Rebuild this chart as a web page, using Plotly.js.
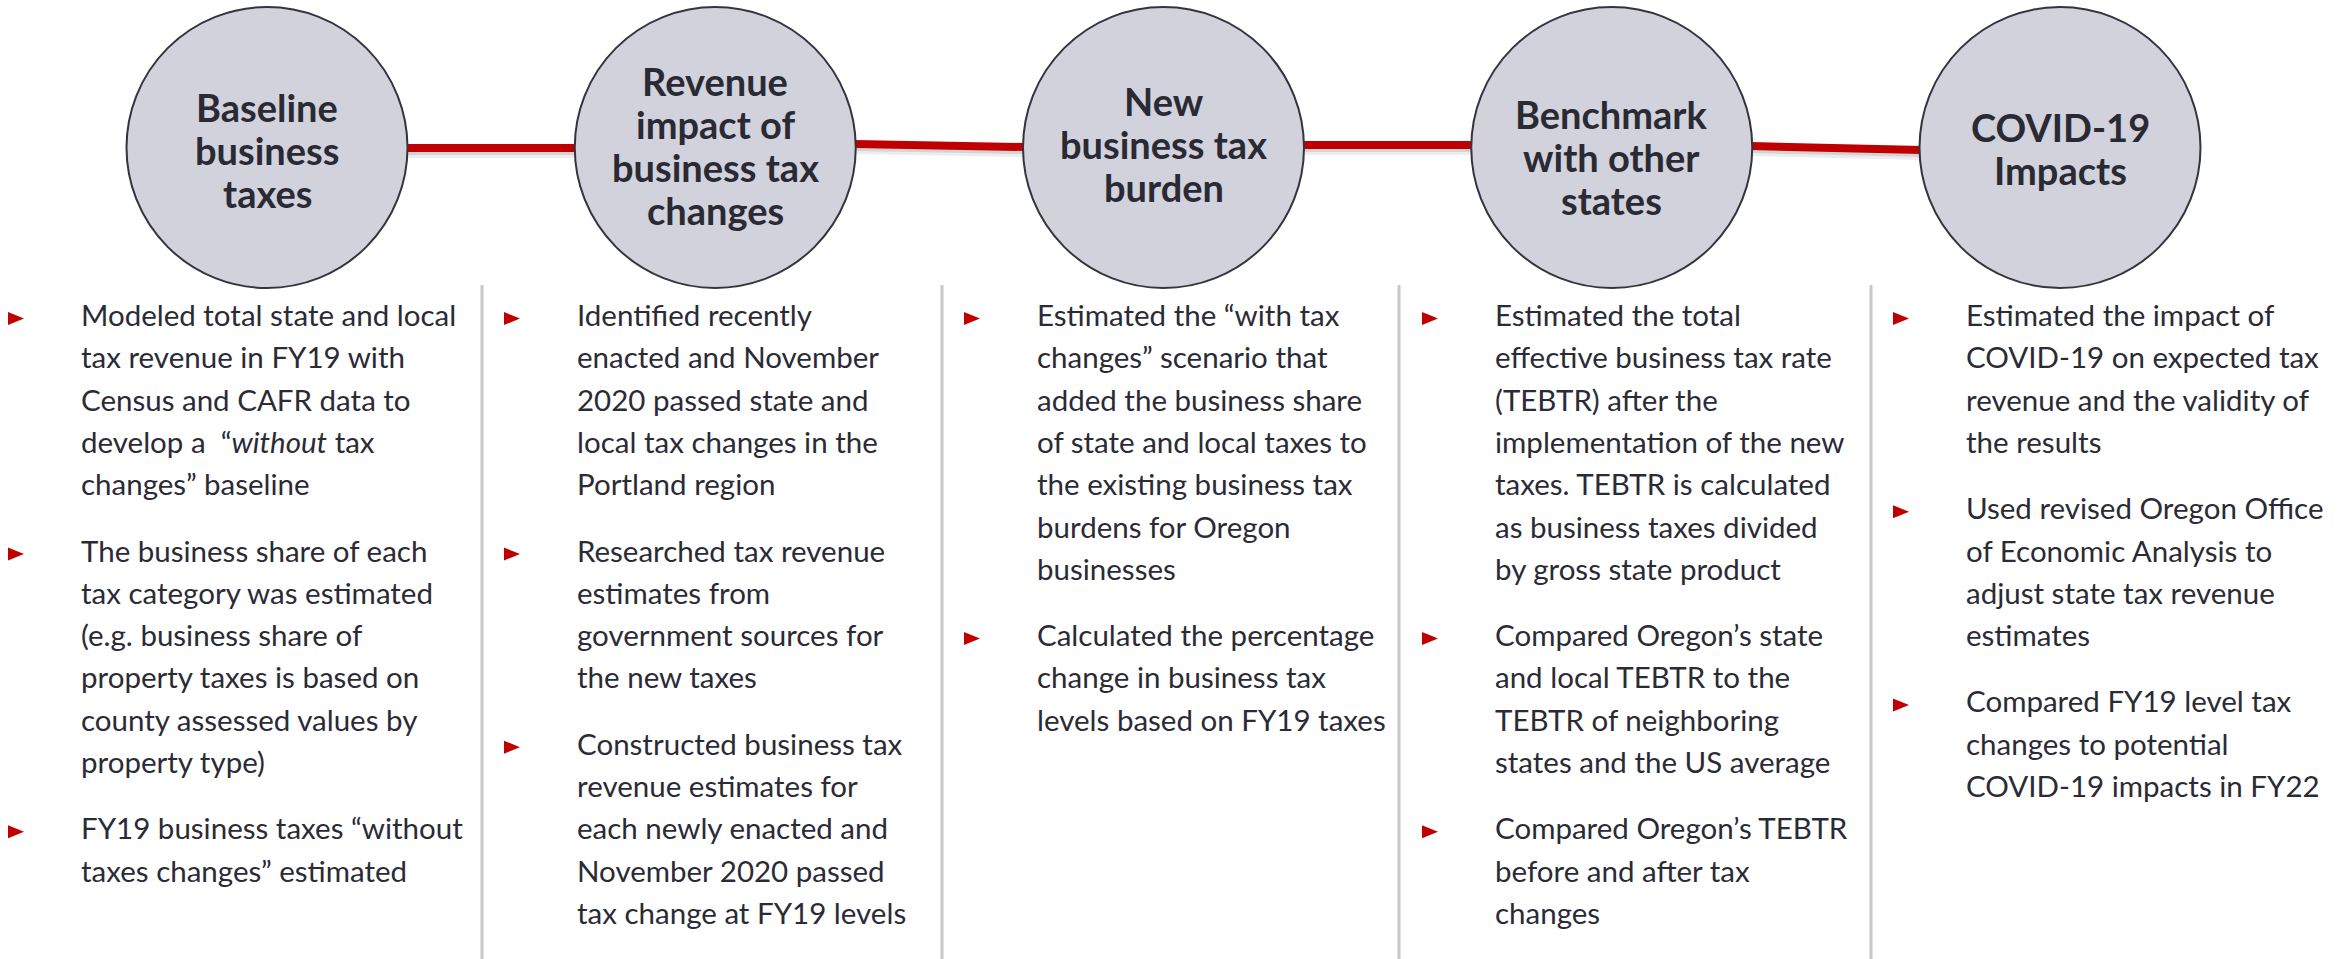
<!DOCTYPE html>
<html><head><meta charset="utf-8">
<script src="https://cdn.plot.ly/plotly-3.0.1.min.js"></script>
<style>html,body{margin:0;padding:0;background:#fff;overflow:hidden}#chart{width:2348px;height:959px}</style>
</head><body><div id="chart"></div>
<script>
// ---- content ----
const stepTitles = [
  ["Baseline", "business", "taxes"],
  ["Revenue", "impact of", "business tax", "changes"],
  ["New", "business tax", "burden"],
  ["Benchmark", "with other", "states"],
  ["COVID-19", "Impacts"]
];
const col1Bullets = [
  ["Modeled total state and local", "tax revenue in FY19 with", "Census and CAFR data to", "develop a \u00A0\u201C<i>without</i> tax", "changes\u201D baseline"],
  ["The business share of each", "tax category was estimated", "(e.g. business share of", "property taxes is based on", "county assessed values by", "property type)"],
  ["FY19 business taxes \u201Cwithout", "taxes changes\u201D estimated"]
];
const col2Bullets = [
  ["Identified recently", "enacted and November", "2020 passed state and", "local tax changes in the", "Portland region"],
  ["Researched tax revenue", "estimates from", "government sources for", "the new taxes"],
  ["Constructed business tax", "revenue estimates for", "each newly enacted and", "November 2020 passed", "tax change at FY19 levels"]
];
const col3Bullets = [
  ["Estimated the \u201Cwith tax", "changes\u201D scenario that", "added the business share", "of state and local taxes to", "the existing business tax", "burdens for Oregon", "businesses"],
  ["Calculated the percentage", "change in business tax", "levels based on FY19 taxes"]
];
const col4Bullets = [
  ["Estimated the total", "effective business tax rate", "(TEBTR) after the", "implementation of the new", "taxes. TEBTR is calculated", "as business taxes divided", "by gross state product"],
  ["Compared Oregon\u2019s state", "and local TEBTR to the", "TEBTR of neighboring", "states and the US average"],
  ["Compared Oregon\u2019s TEBTR", "before and after tax", "changes"]
];
const col5Bullets = [
  ["Estimated the impact of", "COVID-19 on expected tax", "revenue and the validity of", "the results"],
  ["Used revised Oregon Office", "of Economic Analysis to", "adjust state tax revenue", "estimates"],
  ["Compared FY19 level tax", "changes to potential", "COVID-19 impacts in FY22"]
];
const columns = [col1Bullets, col2Bullets, col3Bullets, col4Bullets, col5Bullets];

// ---- layout constants ----
const W = 2348, H = 959;
const circleCX0 = 267, circleStep = 448.25, circleCY = 147.5, circleR = 140.5;
const titleCenterY = [151.5, 147.5, 146, 159, 150];
const titleLineH = 43, titleFS = 38, titleCap = 26;
const connectorY = [[148, 148], [144, 147], [145, 145], [146, 150]];
const bulletX = [8, 504, 964, 1422, 1893];
const textOffset = 73;
const dividerX = [482, 942, 1399, 1871];
const firstBaseline = 326, lineH = 42.3, paraGap = 24, bodyFS = 29.5;
const FONT = 'Lato, "Open Sans", sans-serif';
const ASC = 0.387; // (ascent - descent)/2 in em, for middle anchoring
const RED = '#C00000', TXT = '#2b2b36', TITLE = '#2a2a35';

const shapes = [];
const annotations = [];

// dividers
dividerX.forEach(x => shapes.push({type: 'line', xref: 'x', yref: 'y', x0: x, x1: x, y0: 285, y1: H,
  line: {color: '#c8c8c8', width: 3}, layer: 'below'}));

// connectors (shadow + red)
for (let i = 0; i < 4; i++) {
  const xa = circleCX0 + i * circleStep + circleR - 1;
  const xb = circleCX0 + (i + 1) * circleStep - circleR + 2;
  const [ya, yb] = connectorY[i];
  shapes.push({type: 'line', xref: 'x', yref: 'y', x0: xa, x1: xb, y0: ya + 5, y1: yb + 5,
    line: {color: 'rgba(0,0,0,0.07)', width: 10}, layer: 'below'});
  shapes.push({type: 'line', xref: 'x', yref: 'y', x0: xa, x1: xb, y0: ya + 4, y1: yb + 4,
    line: {color: 'rgba(0,0,0,0.10)', width: 6}, layer: 'below'});
  shapes.push({type: 'line', xref: 'x', yref: 'y', x0: xa, x1: xb, y0: ya, y1: yb,
    line: {color: RED, width: 8}, layer: 'below'});
}

// circles + titles
stepTitles.forEach((lines, i) => {
  const cx = circleCX0 + i * circleStep;
  shapes.push({type: 'circle', xref: 'x', yref: 'y', x0: cx - circleR, x1: cx + circleR,
    y0: circleCY - circleR, y1: circleCY + circleR,
    fillcolor: '#D1D2DB', line: {color: '#34343f', width: 2}, layer: 'above'});
  const n = lines.length;
  const b0 = titleCenterY[i] - ((n - 1) * titleLineH + titleCap) / 2 + titleCap;
  lines.forEach((t, k) => {
    annotations.push({x: cx, y: b0 + k * titleLineH - ASC * titleFS, xref: 'x', yref: 'y',
      text: '<b>' + t + '</b>', showarrow: false, xanchor: 'center', yanchor: 'middle',
      borderpad: 0, borderwidth: 0,
      font: {family: FONT, size: titleFS, color: TITLE}});
  });
});

// body bullets
columns.forEach((paras, c) => {
  let b = firstBaseline;
  const bx = bulletX[c], tx = bx + textOffset;
  paras.forEach(lines => {
    const cy = b - 7.5;
    shapes.push({type: 'path', xref: 'x', yref: 'y',
      path: `M ${bx} ${cy - 6.5} L ${bx + 16} ${cy} L ${bx} ${cy + 6.5} Z`,
      fillcolor: RED, line: {width: 0}, layer: 'above'});
    lines.forEach(t => {
      annotations.push({x: tx, y: b - ASC * bodyFS, xref: 'x', yref: 'y', text: t,
        showarrow: false, xanchor: 'left', yanchor: 'middle', align: 'left',
        borderpad: 0, borderwidth: 0,
        font: {family: FONT, size: bodyFS, color: TXT}});
      b += lineH;
    });
    b += paraGap;
  });
});

const layout = {
  width: W, height: H,
  margin: {l: 0, r: 0, t: 0, b: 0, pad: 0},
  paper_bgcolor: '#ffffff', plot_bgcolor: '#ffffff',
  xaxis: {range: [0, W], visible: false, fixedrange: true},
  yaxis: {range: [H, 0], visible: false, fixedrange: true},
  showlegend: false,
  shapes: shapes,
  annotations: annotations
};
Plotly.newPlot('chart', [{x: [0], y: [0], mode: 'markers', marker: {opacity: 0}, hoverinfo: 'skip'}], layout,
  {staticPlot: true, displayModeBar: false});
</script></body></html>
